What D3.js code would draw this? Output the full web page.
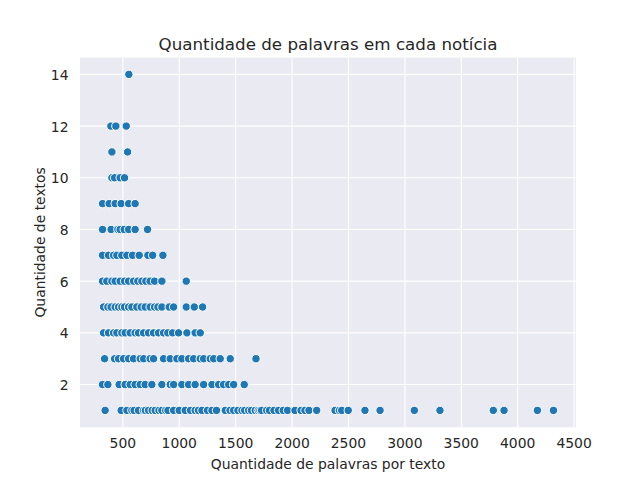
<!DOCTYPE html>
<html><head><meta charset="utf-8">
<script src="https://cdn.jsdelivr.net/npm/d3@7"></script>
<style>body{margin:0;background:#fff}svg{display:block}text{font-family:"DejaVu Sans",sans-serif;fill:#262626}</style>
</head><body><div id="chart"></div>
<script>
// word counts (x) for each number of texts (y)
const count14 = [553];
const count12 = [394, 438, 530];
const count11 = [403, 542];
const count10 = [403, 427, 476, 515];
const count9 = [320, 379, 432, 485, 551, 609];
const count8 = [320, 396, 456, 476, 512, 551, 609, 719];
const count7 = [320, 373, 418, 447, 491, 536, 586, 645, 722, 764, 855];
const count6 = [320, 358, 403, 432, 476, 515, 551, 595, 633, 669, 704, 742, 781, 846, 1062];
const count5 = [329, 367, 396, 432, 462, 491, 515, 551, 580, 624, 663, 698, 742, 781, 811, 846, 911, 950, 1062, 1133, 1207];
const count4 = [329, 373, 418, 447, 491, 521, 565, 609, 639, 684, 728, 772, 817, 861, 899, 941, 994, 1068, 1141, 1186];
const count3 = [338, 427, 462, 506, 551, 595, 654, 684, 742, 772, 861, 920, 979, 1023, 1083, 1127, 1186, 1216, 1275, 1305, 1363, 1452, 1680];
const count2 = [320, 367, 467, 521, 565, 609, 654, 698, 757, 846, 920, 950, 1023, 1083, 1141, 1216, 1290, 1349, 1393, 1438, 1482, 1576];
const count1 = [343, 485, 536, 580, 600, 639, 684, 700, 728, 760, 787, 820, 846, 880, 900, 950, 1000, 1053, 1100, 1141, 1170, 1201, 1250, 1290, 1330, 1408, 1450, 1482, 1520, 1556, 1580, 1615, 1640, 1674, 1700, 1715, 1730, 1775, 1800, 1840, 1880, 1922, 1960, 2026, 2080, 2114, 2150, 2218, 2381, 2420, 2440, 2498, 2646, 2780, 3084, 3311, 3784, 3879, 4175, 4317];
const xTicks = [500, 1000, 1500, 2000, 2500, 3000, 3500, 4000, 4500];
const yTicks = [2, 4, 6, 8, 10, 12, 14];
const title = "Quantidade de palavras em cada notícia";
const xLabel = "Quantidade de palavras por texto";
const yLabel = "Quantidade de textos";

const series = [[1,count1],[2,count2],[3,count3],[4,count4],[5,count5],[6,count6],[7,count7],[8,count8],[9,count9],[10,count10],[11,count11],[12,count12],[14,count14]];
const points = [];
series.forEach(([y, xs]) => xs.forEach(x => points.push({x, y})));

const W = 640, H = 480;
const m = {left: 80, right: 576, top: 57.6, bottom: 427.2};
const pad = (ext) => { const r = ext[1]-ext[0]; return [ext[0]-0.05*r, ext[1]+0.05*r]; };
const x = d3.scaleLinear().domain(pad(d3.extent(points, d => d.x))).range([m.left, m.right]);
const y = d3.scaleLinear().domain(pad(d3.extent(points, d => d.y))).range([m.bottom, m.top]);

const svg = d3.select("#chart").append("svg").attr("width", W).attr("height", H);
svg.append("rect").attr("x", m.left).attr("y", m.top).attr("width", m.right-m.left).attr("height", m.bottom-m.top).attr("fill", "#EAEAF2");

const g = svg.append("g");
g.selectAll(".gx").data(xTicks).join("line")
  .attr("x1", d => x(d)).attr("x2", d => x(d)).attr("y1", m.top).attr("y2", m.bottom)
  .attr("stroke", "#fff").attr("stroke-width", 1.1);
g.selectAll(".gy").data(yTicks).join("line")
  .attr("y1", d => y(d)).attr("y2", d => y(d)).attr("x1", m.left).attr("x2", m.right)
  .attr("stroke", "#fff").attr("stroke-width", 1.1);

svg.selectAll(".xt").data(xTicks).join("text")
  .attr("x", d => x(d)).attr("y", 448).attr("text-anchor", "middle").attr("font-size", 13.9).text(d => d);
svg.selectAll(".yt").data(yTicks).join("text")
  .attr("x", 68.5).attr("y", d => y(d) + 5.5).attr("text-anchor", "end").attr("font-size", 13.9).text(d => d);

svg.append("g").selectAll("circle").data(points).join("circle")
  .attr("cx", d => x(d.x)).attr("cy", d => y(d.y)).attr("r", 4.2)
  .attr("fill", "#1f77b4").attr("stroke", "#fff").attr("stroke-width", 1);

svg.append("text").attr("x", (m.left+m.right)/2).attr("y", 50).attr("text-anchor", "middle").attr("font-size", 16.7).text(title);
svg.append("text").attr("x", (m.left+m.right)/2).attr("y", 468.5).attr("text-anchor", "middle").attr("font-size", 13.9).text(xLabel);
svg.append("text").attr("transform", `translate(44.5,${(m.top+m.bottom)/2}) rotate(-90)`).attr("text-anchor", "middle").attr("font-size", 13.9).text(yLabel);
</script></body></html>
